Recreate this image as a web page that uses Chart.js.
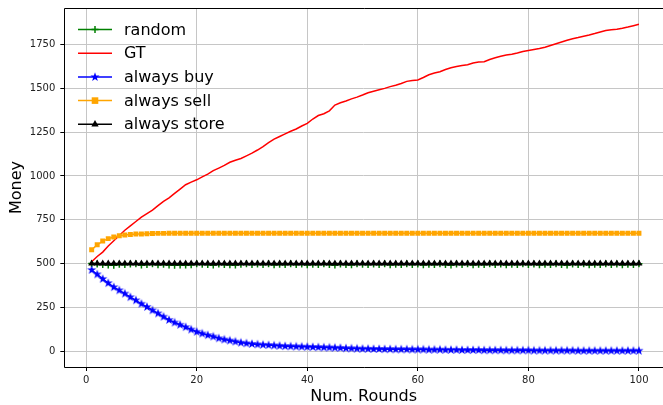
<!DOCTYPE html>
<html>
<head>
<meta charset="utf-8">
<script src="https://cdn.jsdelivr.net/npm/chart.js@4/dist/chart.umd.min.js"></script>
<style>
html,body{margin:0;padding:0;background:#fff;overflow:hidden;}
canvas{display:block;}
</style>
</head>
<body>
<canvas id="c" width="663" height="405"></canvas>
<script>
// ---- data ----
const rounds = Array.from({length:100},(_,i)=>i+1);
const xTicks = [0,20,40,60,80,100];
const yTicks = [0,250,500,750,1000,1250,1500,1750];
const seriesNames = ['random','GT','always buy','always sell','always store'];

const randomVals = [500,497,495,491,490,496,494,497,499,492,495,498,493,496,491,490,491,492,493,498,
496,494,492,497,495,493,491,496,498,494,497,495,499,493,496,494,498,495,497,493,
496,494,498,495,492,497,495,493,498,496,494,497,495,499,493,496,494,498,495,497,
493,496,494,498,495,492,497,495,499,493,496,494,498,495,497,493,496,494,498,495,
497,493,496,494,498,495,492,497,495,499,493,496,494,498,495,497,493,496,494,498];

const gtVals = [510,540,565,600,630,660,690,715,740,765,785,805,830,855,875,900,925,950,965,978,
995,1010,1030,1045,1060,1078,1090,1100,1115,1130,1148,1168,1190,1210,1225,1240,1255,1268,1285,1300,
1325,1345,1355,1372,1405,1418,1428,1440,1450,1462,1475,1484,1492,1500,1510,1518,1528,1540,1545,1548,
1562,1578,1588,1595,1608,1618,1625,1630,1635,1645,1650,1652,1665,1675,1683,1690,1695,1702,1710,1716,
1722,1728,1735,1745,1755,1765,1775,1783,1790,1798,1805,1813,1822,1830,1835,1838,1843,1850,1858,1866];

const buyVals = [463,438,412,388,365,347,328,308,290,270,252,233,215,196,178,163,150,137,123,110,
100,91,83,73,66,60,54,48,44,41,38,36,34,32,30,28,27,26,25,24,
23,22,21,20,19,18,16,15,14,13,13,12,12,11,11,10,10,10,9,9,
9,8,8,8,7,7,7,6,6,6,6,5,5,5,5,4,4,4,4,4,
3,3,3,3,3,3,3,3,2,2,2,2,2,2,2,2,2,2,2,2];

const sellVals = [578,607,628,642,651,658,663,666,668,669,670,671,672,672,673,673,673,673,673,673,
673,673,673,673,673,673,673,673,673,673,673,673,673,673,673,673,673,673,673,673,
673,673,673,673,673,673,673,673,673,673,673,673,673,673,673,673,673,673,673,673,
673,673,673,673,673,673,673,673,673,673,673,673,673,673,673,673,673,673,673,673,
673,673,673,673,673,673,673,673,673,673,673,673,673,673,673,673,673,673,673,673];

const storeVals = [500,500,500,500,500,500,500,500,500,500,500,500,500,500,500,500,500,500,500,500,
500,500,500,500,500,500,500,500,500,500,500,500,500,500,500,500,500,500,500,500,
500,500,500,500,500,500,500,500,500,500,500,500,500,500,500,500,500,500,500,500,
500,500,500,500,500,500,500,500,500,500,500,500,500,500,500,500,500,500,500,500,
500,500,500,500,500,500,500,500,500,500,500,500,500,500,500,500,500,500,500,500];

// ---- styling ----
const FONT = 'DejaVu Sans';
const colors = ['#008000','#ff0000','#0000ff','#ffa500','#000000'];

function makeStar(color, R){
  const s = Math.ceil(R*2+2);
  const cv = document.createElement('canvas');
  cv.width = s; cv.height = s;
  const g = cv.getContext('2d');
  const cx = s/2, cy = s/2, r = R*0.4;
  g.beginPath();
  for(let i=0;i<10;i++){
    const a = -Math.PI/2 + i*Math.PI/5;
    const rr = i%2===0 ? R : r;
    const px = cx + rr*Math.cos(a), py = cy + rr*Math.sin(a);
    if(i===0) g.moveTo(px,py); else g.lineTo(px,py);
  }
  g.closePath();
  g.fillStyle = color; g.fill();
  return cv;
}
const starImg = makeStar('#0000ff', 4.8);

const toXY = arr => arr.map((v,i)=>({x:rounds[i], y:v}));

const datasets = [
  {label:seriesNames[0], data:toXY(randomVals), borderColor:colors[0], backgroundColor:colors[0], borderWidth:1.5,
   pointStyle:'cross', pointRadius:3.5, pointBorderWidth:1.5, pointBorderColor:colors[0], order:5},
  {label:seriesNames[1], data:toXY(gtVals), borderColor:colors[1], backgroundColor:colors[1], borderWidth:1.5,
   pointRadius:0, order:4},
  {label:seriesNames[2], data:toXY(buyVals), borderColor:colors[2], backgroundColor:colors[2], borderWidth:1.5,
   pointStyle:starImg, pointRadius:4, order:3},
  {label:seriesNames[3], data:toXY(sellVals), borderColor:colors[3], backgroundColor:colors[3], borderWidth:1.5,
   pointStyle:'rect', pointRadius:3.5, pointBorderWidth:0, order:2},
  {label:seriesNames[4], data:toXY(storeVals), borderColor:colors[4], backgroundColor:colors[4], borderWidth:1.5,
   pointStyle:'triangle', pointRadius:4, pointBorderWidth:0, order:1}
];
datasets.forEach(d=>{ d.tension = 0; d.fill = false; d.pointHoverRadius = d.pointRadius; });

const framePlugin = {
  id:'frame',
  afterDatasetsDraw(chart){
    const {ctx, chartArea:a} = chart;
    ctx.save();
    ctx.strokeStyle = '#000';
    ctx.lineWidth = 1;
    const L = Math.round(a.left)+0.5, T = Math.round(a.top)+0.5, B = Math.round(a.bottom)+0.5, R = a.right + 5;
    ctx.beginPath();
    ctx.moveTo(R, T); ctx.lineTo(L, T); ctx.lineTo(L, B); ctx.lineTo(R, B);
    ctx.stroke();
    ctx.restore();

    // legend (matplotlib style, inside axes, no frame)
    const ys = [29.5, 53.3, 77, 100.6, 124.3];
    const x0 = 78, x1 = 112, mx = 95, tx = 124;
    ctx.save();
    ctx.font = '16px "' + FONT + '"';
    ctx.textBaseline = 'middle';
    ctx.textAlign = 'left';
    seriesNames.forEach((name,i)=>{
      const y = ys[i];
      ctx.strokeStyle = colors[i];
      ctx.lineWidth = 1.5;
      ctx.beginPath(); ctx.moveTo(x0,y); ctx.lineTo(x1,y); ctx.stroke();
      ctx.fillStyle = colors[i];
      if(i===0){
        ctx.beginPath(); ctx.moveTo(mx-3.5,y); ctx.lineTo(mx+3.5,y); ctx.moveTo(mx,y-3.5); ctx.lineTo(mx,y+3.5); ctx.stroke();
      } else if(i===2){
        ctx.drawImage(starImg, mx-starImg.width/2, y-starImg.height/2);
      } else if(i===3){
        ctx.fillRect(mx-3.3, y-3.3, 6.6, 6.6);
      } else if(i===4){
        const r = 4.2;
        ctx.beginPath();
        ctx.moveTo(mx, y-r);
        ctx.lineTo(mx + r*Math.sin(2*Math.PI/3), y - r*Math.cos(2*Math.PI/3));
        ctx.lineTo(mx + r*Math.sin(4*Math.PI/3), y - r*Math.cos(4*Math.PI/3));
        ctx.closePath(); ctx.fill();
      }
      ctx.fillStyle = '#000';
      ctx.fillText(name, tx, y+1);
    });
    ctx.restore();
  }
};

const gridCommon = {color:'#c6c6c6', lineWidth:1, tickColor:'#000', tickLength:4, tickWidth:1, drawOnChartArea:true, drawTicks:true};

new Chart(document.getElementById('c'), {
  type:'line',
  data:{datasets},
  options:{
    responsive:false,
    devicePixelRatio:1,
    animation:false,
    events:[],
    layout:{autoPadding:false, padding:{top:8, right:0, left:0, bottom:0}},
    plugins:{legend:{display:false}, tooltip:{enabled:false}},
    scales:{
      x:{
        type:'linear', min:-3.95, max:104.35,
        afterBuildTicks:s=>{ s.ticks = xTicks.map(v=>({value:v})); },
        afterFit:s=>{ s.height = 38; s.paddingLeft = 0; s.paddingRight = 0; },
        grid:gridCommon,
        border:{display:false},
        ticks:{font:{family:FONT, size:10}, color:'#222', padding:3, maxRotation:0, autoSkip:false, callback:v=>String(v)},
        title:{display:true, text:'Num. Rounds', color:'#000', font:{family:FONT, size:16, lineHeight:1}, padding:{top:0,bottom:0}}
      },
      y:{
        type:'linear', min:-91, max:1959,
        afterBuildTicks:s=>{ s.ticks = yTicks.map(v=>({value:v})); },
        afterFit:s=>{ s.width = 64.3; s.paddingTop = 0; s.paddingBottom = 0; },
        grid:gridCommon,
        border:{display:false},
        ticks:{font:{family:FONT, size:10}, color:'#222', padding:5, autoSkip:false, callback:v=>String(v)},
        title:{display:true, text:'Money', color:'#000', font:{family:FONT, size:16, lineHeight:1}, padding:{top:9,bottom:0}}
      }
    }
  },
  plugins:[framePlugin]
});
</script>
</body>
</html>
